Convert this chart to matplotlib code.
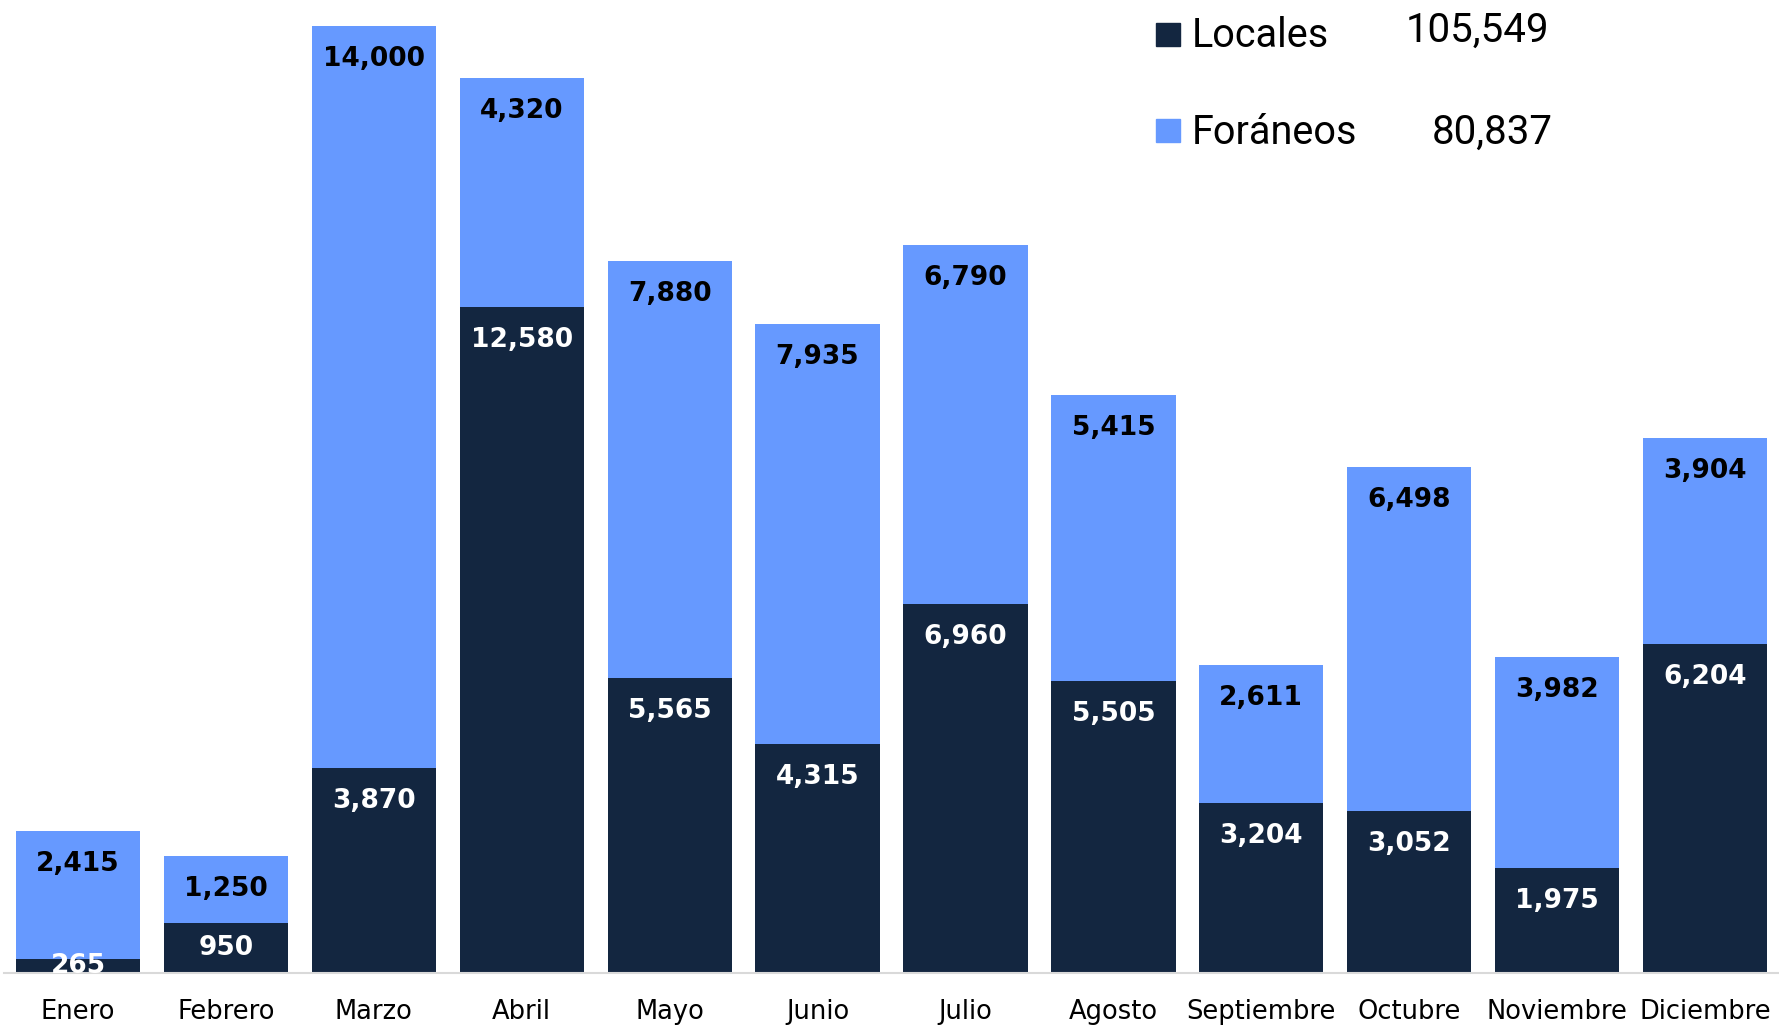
import matplotlib
matplotlib.use('Agg')
from matplotlib import pyplot as plt
from matplotlib.patches import Rectangle

# months and the two stacked series
meses = ['Enero', 'Febrero', 'Marzo', 'Abril', 'Mayo', 'Junio', 'Julio',
         'Agosto', 'Septiembre', 'Octubre', 'Noviembre', 'Diciembre']
locales = [265, 950, 3870, 12580, 5565, 4315, 6960, 5505, 3204, 3052, 1975, 6204]
foraneos = [2415, 1250, 14000, 4320, 7880, 7935, 6790, 5415, 2611, 6498, 3982, 3904]

# legend names and the totals written next to them
series_names = ['Locales', 'Foráneos']
series_totals = ['105,549', '80,837']

color_loc = '#132640'
color_for = '#6699FF'

W, H = 1779, 1026
YMAX = 18370
fig = plt.figure(figsize=(W / 100, H / 100), dpi=100)
# axes: baseline at y=973 px, spans almost the full width
ax = fig.add_axes([4 / W, (H - 973) / H, 1 - 4 / W, 973 / H])

x = list(range(len(meses)))
ax.bar(x, locales, width=0.84, color=color_loc)
ax.bar(x, foraneos, width=0.84, bottom=locales, color=color_for)

ax.set_xlim(-0.5, len(meses) - 0.5)
ax.set_ylim(0, YMAX)

# value labels just under the top of each segment,
# or in the middle when the segment is too short (like excel does)
off = 33 * YMAX / 973   # 33 px in data units


def label_y(bottom, top):
    return max(top - off, (bottom + top) / 2)


for i in x:
    top1 = locales[i]
    top2 = locales[i] + foraneos[i]
    ax.text(i, label_y(0, top1), f'{locales[i]:,}', ha='center', va='center',
            color='white', fontsize=19, fontweight='bold', clip_on=True)
    ax.text(i, label_y(top1, top2), f'{foraneos[i]:,}', ha='center', va='center',
            color='black', fontsize=19, fontweight='bold', clip_on=True)

for s in ['top', 'right', 'left']:
    ax.spines[s].set_visible(False)
ax.spines['bottom'].set_color('#D9D9D9')
ax.spines['bottom'].set_linewidth(1.5)
ax.set_yticks([])
ax.set_xticks(x)
ax.set_xticklabels(meses, fontsize=18.5)
ax.tick_params(axis='x', length=0, pad=19)

# hand made legend in pixel positions (from top)
box_y = [23, 119]
text_base = [47, 144]
num_base = [42, 144]
num_right = [1549, 1553]
for k, (name, total, c) in enumerate(zip(series_names, series_totals, [color_loc, color_for])):
    fig.patches.append(Rectangle((1156 / W, (H - box_y[k] - 23) / H), 24 / W, 23 / H,
                                 transform=fig.transFigure, color=c))
    fig.text(1192 / W, (H - text_base[k]) / H, name, fontsize=28.5, family='Roboto',
             va='baseline', ha='left')
    fig.text(num_right[k] / W, (H - num_base[k]) / H, total, fontsize=29, family='Roboto',
             va='baseline', ha='right')

fig.savefig('out.png', dpi=100)
